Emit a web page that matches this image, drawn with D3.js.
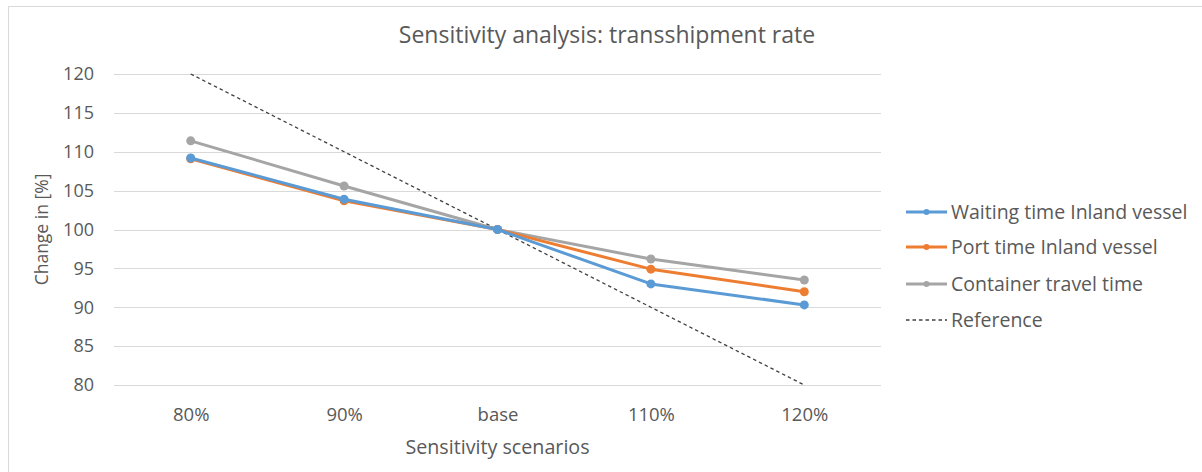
<!DOCTYPE html>
<html>
<head>
<meta charset="utf-8">
<script src="https://cdn.jsdelivr.net/npm/d3@7"></script>
<style>
  html, body { margin: 0; padding: 0; background: #fff; }
  svg { display: block; }
  text { font-family: "Open Sans", "Liberation Sans", sans-serif; fill: #595959; }
</style>
</head>
<body>
<svg id="chart" width="1202" height="472"></svg>
<script>
// Sensitivity scenarios on the x axis
const scenarios = ["80%", "90%", "base", "110%", "120%"];

// Change relative to the base scenario, in percent
const waitingTime = [109.2, 103.9, 100, 93.0, 90.3];
const portTime = [109.1, 103.7, 100, 94.9, 92.0];
const containerTravel = [111.4, 105.6, 100, 96.2, 93.5];
const reference = [120, 110, 100, 90, 80];

const yTicks = [80, 85, 90, 95, 100, 105, 110, 115, 120];

const seriesNames = ["Waiting time Inland vessel", "Port time Inland vessel", "Container travel time", "Reference"];
const seriesColors = ["#5b9bd5", "#ed7d31", "#a5a5a5", "#404040"];

const series = [
  { name: seriesNames[0], values: waitingTime, color: seriesColors[0], dashed: false },
  { name: seriesNames[1], values: portTime, color: seriesColors[1], dashed: false },
  { name: seriesNames[2], values: containerTravel, color: seriesColors[2], dashed: false },
  { name: seriesNames[3], values: reference, color: seriesColors[3], dashed: true }
];

const svg = d3.select("#chart");

// chart frame
svg.append("path")
  .attr("d", "M8.5,472 L8.5,6.5 L1202,6.5")
  .attr("fill", "none")
  .attr("stroke", "#d9d9d9")
  .attr("stroke-width", 1);

const plot = { left: 114, right: 881, top: 74, bottom: 385 };

const x = d3.scalePoint()
  .domain(scenarios)
  .range([plot.left, plot.right])
  .padding(0.5);

const y = d3.scaleLinear()
  .domain([80, 120])
  .range([plot.bottom, plot.top]);

// horizontal gridlines
svg.append("g")
  .selectAll("line")
  .data(yTicks)
  .join("line")
  .attr("x1", plot.left)
  .attr("x2", plot.right)
  .attr("y1", d => Math.round(y(d)) + 0.5)
  .attr("y2", d => Math.round(y(d)) + 0.5)
  .attr("stroke", "#d9d9d9")
  .attr("stroke-width", 1);

// y axis labels
const yAxis = d3.axisLeft(y).tickValues(yTicks).tickSize(0).tickPadding(0);
const yg = svg.append("g")
  .attr("transform", `translate(${plot.left - 20},0)`)
  .call(yAxis);
yg.select(".domain").remove();
yg.selectAll("text")
  .attr("font-size", 18)
  .attr("fill", "#595959")
  .attr("font-family", null);

// x axis labels
const xAxis = d3.axisBottom(x).tickSize(0).tickPadding(0);
const xg = svg.append("g")
  .attr("transform", `translate(0,${plot.bottom + 23})`)
  .call(xAxis);
xg.select(".domain").remove();
xg.selectAll("text")
  .attr("font-size", 18.5)
  .attr("fill", "#595959")
  .attr("font-family", null);

// lines
const line = d3.line()
  .x((d, i) => x(scenarios[i]))
  .y(d => y(d));

const drawOrder = [series[3], series[2], series[1], series[0]];
drawOrder.forEach(s => {
  svg.append("path")
    .datum(s.values)
    .attr("d", line)
    .attr("fill", "none")
    .attr("stroke", s.color)
    .attr("stroke-width", s.dashed ? 1.3 : 3)
    .attr("stroke-dasharray", s.dashed ? "3.5,3" : null)
    .attr("stroke-linejoin", "round")
    .attr("stroke-linecap", s.dashed ? "butt" : "round");
  if (!s.dashed) {
    svg.append("g")
      .selectAll("circle")
      .data(s.values)
      .join("circle")
      .attr("cx", (d, i) => x(scenarios[i]))
      .attr("cy", d => y(d))
      .attr("r", 4.5)
      .attr("fill", s.color);
  }
});

// title
svg.append("text")
  .attr("x", 607)
  .attr("y", 43)
  .attr("text-anchor", "middle")
  .attr("font-size", 23)
  .text("Sensitivity  analysis: transshipment rate");

// axis titles
svg.append("text")
  .attr("transform", `translate(48,${(plot.top + plot.bottom) / 2}) rotate(-90)`)
  .attr("text-anchor", "middle")
  .attr("font-size", 17.5)
  .text("Change in [%]");

svg.append("text")
  .attr("x", (plot.left + plot.right) / 2)
  .attr("y", 454)
  .attr("text-anchor", "middle")
  .attr("font-size", 19.7)
  .text("Sensitivity scenarios");

// legend
const legend = svg.append("g");
const legendRows = [212, 247, 284, 320];
series.forEach((s, i) => {
  const row = legend.append("g").attr("transform", `translate(906,${legendRows[i]})`);
  row.append("line")
    .attr("x1", 0).attr("x2", 41)
    .attr("y1", 0).attr("y2", 0)
    .attr("stroke", s.color)
    .attr("stroke-width", s.dashed ? 1.3 : 3)
    .attr("stroke-dasharray", s.dashed ? "3.5,3" : null);
  if (!s.dashed) {
    row.append("circle").attr("cx", 20.5).attr("cy", 0).attr("r", 3).attr("fill", s.color);
  }
  row.append("text")
    .attr("x", 45)
    .attr("y", 7)
    .attr("font-size", 19.5)
    .text(s.name);
});
</script>
</body>
</html>
